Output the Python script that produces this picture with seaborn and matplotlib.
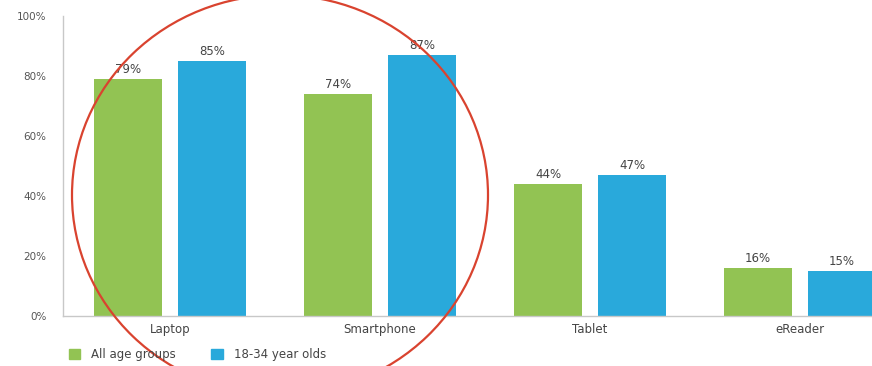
import pandas as pd
import matplotlib.pyplot as plt
from matplotlib.patches import Ellipse
import seaborn as sns

devices = ["Laptop", "Smartphone", "Tablet", "eReader"]
groups = ["All age groups", "18-34 year olds"]
all_ages = [79, 74, 44, 16]
young = [85, 87, 47, 15]
yticks = [0, 20, 40, 60, 80, 100]
colors = ["#92c353", "#29a9db"]

df = pd.DataFrame({
    "device": devices * 2,
    "group": [groups[0]] * 4 + [groups[1]] * 4,
    "share": all_ages + young,
})

sns.set_style("white")
plt.rcParams["font.family"] = ["DejaVu Sans"]

fig = plt.figure(figsize=(8.72, 3.66), dpi=100)
ax = fig.add_axes([63 / 872, 1 - 316 / 366, 1 - 63 / 872, 300 / 366])

sns.barplot(data=df, x="device", y="share", hue="group", palette=colors,
            width=0.8, gap=0.2, saturation=1, legend=False, linewidth=0, ax=ax)

for cont in ax.containers:
    ax.bar_label(cont, labels=[f"{v:.0f}%" for v in cont.datavalues],
                 padding=2, fontsize=8.5, color="#444444")

ax.set_xlim(-0.51, 3.343)
ax.set_ylim(0, 100)
ax.set_yticks(yticks)
ax.set_yticklabels([f"{t}%" for t in yticks], fontsize=7.5, color="#555555")
ax.tick_params(axis="x", labelsize=8.5, colors="#444444", pad=5, length=0)
ax.tick_params(axis="y", length=0, pad=12)
ax.set_xlabel("")
ax.set_ylabel("")
for side in ["top", "right"]:
    ax.spines[side].set_visible(False)
for side in ["left", "bottom"]:
    ax.spines[side].set_color("#c8c8c8")
    ax.spines[side].set_linewidth(1)

handles = [plt.Rectangle((0, 0), 1, 1, color=c) for c in colors]
fig.legend(handles, groups, loc="lower left", bbox_to_anchor=(58 / 872, -0.015),
           ncol=2, frameon=False, fontsize=8.5, handlelength=1.0, handleheight=1.0,
           columnspacing=3.0, handletextpad=0.9, labelcolor="#444444")

# red circle drawn over the image
ring = Ellipse((280, 366 - 195), 416, 400, transform=None, fill=False,
               edgecolor="#d9432f", linewidth=1.6)
fig.patches.append(ring)

fig.savefig("out.png", dpi=100)
